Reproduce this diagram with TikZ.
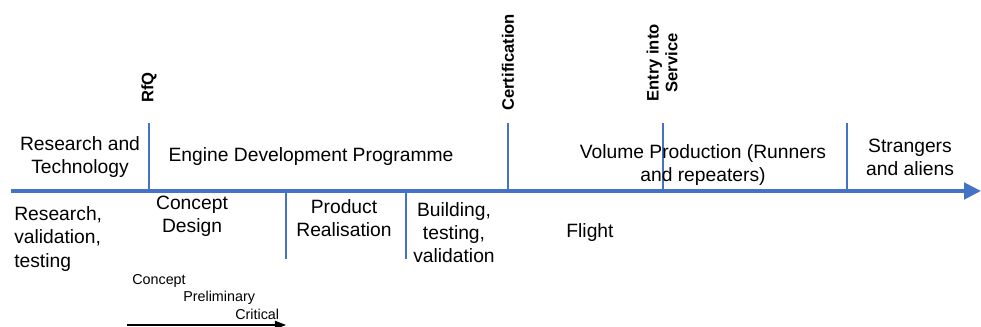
\documentclass[tikz,border=0pt]{standalone}
\usepackage{fontspec}
\setmainfont{Liberation Sans}
\usepackage{xcolor}
\usetikzlibrary{arrows.meta}
\definecolor{axisblue}{RGB}{68,114,196}

\begin{document}
\begin{tikzpicture}[x=0.025cm, y=-0.025cm, >={Triangle[length=12pt,width=11.5pt]},
  phase/.style={font=\fontsize{13.7}{16.4}\selectfont, align=center, inner sep=0pt},
  milestone/.style={font=\fontsize{11.8}{13.4}\selectfont\bfseries, rotate=90, anchor=west, align=center, inner sep=0pt},
  gate/.style={axisblue, line width=0.75pt},
  review/.style={font=\fontsize{10.2}{12}\selectfont, anchor=west, inner sep=0pt}]
  \useasboundingbox (0,0) rectangle (981,327);
  % gates above and below the time line
  \foreach \x/\name in {149/rfq, 508/cert, 663/eis, 847/mature} {
    \coordinate (\name top) at (\x,123);
    \coordinate (\name) at (\x,191);
    \draw[gate] (\name top) -- (\name);
  }
  \foreach \x/\name in {286/cd, 406/pr} {
    \coordinate (\name) at (\x,191);
    \coordinate (\name bot) at (\x,259);
    \draw[gate] (\name) -- (\name bot);
  }
  \coordinate (start) at (11,191);
  \coordinate (end) at (981,191);
  \draw[axisblue, line width=2.85pt, ->] (start) -- (end);

  \node[milestone] (rfqlabel) at (149,103) {RfQ};
  \node[milestone] (certlabel) at (508,111) {Certification};
  \node[milestone] (eislabel) at (662,102) {Entry into\\Service};

  \node[phase] (randt) at (80,157) {Research and\\Technology};
  \node[phase] (edp) at (311,157) {Engine Development Programme};
  \node[phase] (volume) at (703,165) {Volume Production (Runners\\and repeaters)};
  \node[phase] (strangers) at (910,157) {Strangers\\and aliens};

  \node[phase, align=left, anchor=west] (research) at (14,239) {Research,\\validation,\\testing};
  \node[phase] (concept) at (192,216) {Concept\\Design};
  \node[phase] (product) at (344,218) {Product\\Realisation};
  \node[phase] (building) at (454,233) {Building,\\testing,\\validation};
  \node[phase] (flight) at (590,233) {Flight};

  \node[review] (crev) at (132,281) {Concept};
  \node[review] (prev) at (183,298) {Preliminary};
  \node[review] (critrev) at (235,314) {Critical};
  \coordinate (revstart) at (127,325);
  \coordinate (revend) at (286,325);
  \draw[-{Triangle[length=8pt,width=6pt]}, line width=0.8pt] (revstart) -- (revend);
\end{tikzpicture}
\end{document}
